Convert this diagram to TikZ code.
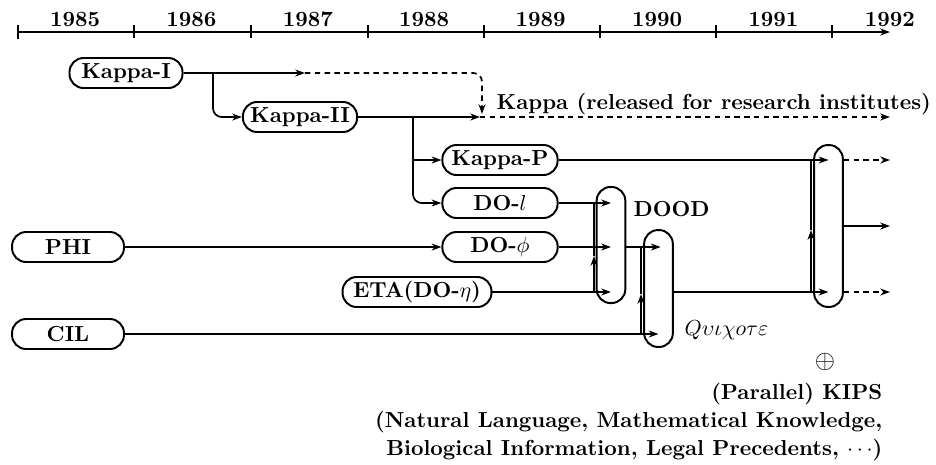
\documentclass[tikz,border=0pt]{standalone}
\usetikzlibrary{arrows.meta}
\begin{document}
\begin{tikzpicture}[x=0.46pt,y=-0.46pt,
  every node/.style={font=\bfseries},
  proj/.style={draw, rounded corners=6.5pt, minimum height=13.8pt, inner sep=1pt, line width=0.9pt},
  pill/.style={draw, rounded corners=6.4pt, minimum width=13.2pt, inner sep=0pt, line width=0.9pt},
  link/.style={line width=0.8pt},
  rel/.style={link, dash pattern=on 2.5pt off 2pt},
  >={Stealth[length=4.5pt,width=3.2pt]}
]
\useasboundingbox (0,0) rectangle (936,464);

% time axis
\draw[link,|->] (17,32) -- (890,32);
\foreach \x in {134,251,368,484,600,716,832}
  \draw[link] (\x,25) -- (\x,38);
\foreach \yr [count=\i from 0] in {1985,1986,1987,1988,1989,1990,1991,1992}
  \node (y\yr) at ({75+116.4*\i},19) {\yr};

% projects
\node[proj, minimum width=52pt]   (kI)    at (126,73)  {Kappa-I};
\node[proj, minimum width=52.5pt] (kII)   at (300,117) {Kappa-II};
\node[proj, minimum width=53pt]   (kP)    at (500,160) {Kappa-P};
\node[proj, minimum width=53pt]   (dol)   at (500,203) {DO-$l$};
\node[proj, minimum width=53pt]   (dophi) at (500,247) {DO-$\phi$};
\node[proj, minimum width=51.5pt] (phi)   at (68,247)  {PHI};
\node[proj, minimum width=68.5pt] (eta)   at (417,292) {ETA(DO-$\eta$)};
\node[proj, minimum width=51.5pt] (cil)   at (68,334)  {CIL};

\node[pill, minimum height=53.4pt] (dood) at (611,245) {};
\node[pill, minimum height=53.8pt] (quix) at (658.5,288.5) {};
\node[pill, minimum height=74.5pt] (kips) at (828.5,226) {};

% labels
\node[anchor=west] (kappalbl) at (489,104) {Kappa (released for research institutes)};
\node[anchor=west] (doodlbl) at (626,209) {DOOD};
\node[anchor=west] (quixlbl) at (677,330) {$Q\upsilon\iota\chi o\tau\varepsilon$};
\node[font=\large] (oplus) at (825,362) {$\oplus$};
\node[anchor=east, align=right] (kipslbl) at (890,422)
  {(Parallel) KIPS\\[1pt](Natural Language, Mathematical Knowledge,\\[1pt]Biological Information, Legal Precedents, $\cdots$)};

% Kappa line
\coordinate (kIrel) at (305,73);
\coordinate (kIbend) at (482,73);
\coordinate (krelease) at (482,114);
\coordinate (kIfork) at (213,73);
\coordinate (kIIend) at (480,117);
\coordinate (kappaout) at (890,117);
\coordinate (kIIfork) at (413,117);
\draw[link,->] (kI.east) -- (kIrel);
\draw[rel,->,rounded corners=4pt] (kIrel) -- (kIbend) -- (krelease);
\draw[link,->,rounded corners=4pt] (kIfork) |- (kII.west);
\draw[link,->] (kII.east) -- (kIIend);
\draw[rel,->] (kIIend) -- (kappaout);
\draw[link,->] (kIIfork) |- (kP.west);
\draw[link,->,rounded corners=4pt] (kIIfork) |- (dol.west);

% into DOOD
\coordinate (etajoin) at (594,292);
\coordinate (doodmid) at (594,256);
\coordinate (doltop) at (594,203);
\draw[link,->] (phi.east) -- (dophi.west);
\draw[link,->] (dol.east) -- (dol.east -| dood.center);
\draw[link,->] (dophi.east) -- (dophi.east -| dood.center);
\draw[link,->] (eta.east) -- (eta.east -| dood.center);
\draw[link,->] (etajoin) -- (doodmid);
\draw[link] (doodmid) -- (doltop);

% into Quixote
\coordinate (ciljoin) at (641,334);
\coordinate (quixmid) at (641,294);
\coordinate (quixtop) at (641,247);
\draw[link,->] (dood.east |- dophi.east) -- ([xshift=1pt]dophi.east -| quix.center);
\draw[link,->] (cil.east) -- (cil.east -| quix.center);
\draw[link,->] (ciljoin) -- (quixmid);
\draw[link] (quixmid) -- (quixtop);

% into KIPS
\coordinate (kipsjoin) at (811,292);
\coordinate (kipsmid) at (811,230);
\coordinate (kipstop) at (811,160);
\coordinate (outP) at (890,160);
\coordinate (outK) at (890,226);
\coordinate (outQ) at (890,292);
\draw[link,->] (kP.east) -- (kP.east -| kips.center);
\draw[link,->] (quix.east |- eta.east) -- (eta.east -| kips.center);
\draw[link,->] (kipsjoin) -- (kipsmid);
\draw[link] (kipsmid) -- (kipstop);
\draw[rel,->] (kips.east |- kP.east) -- (outP);
\draw[link,->] (kips.east) -- (outK);
\draw[rel,->] (kips.east |- eta.east) -- (outQ);
\end{tikzpicture}
\end{document}
